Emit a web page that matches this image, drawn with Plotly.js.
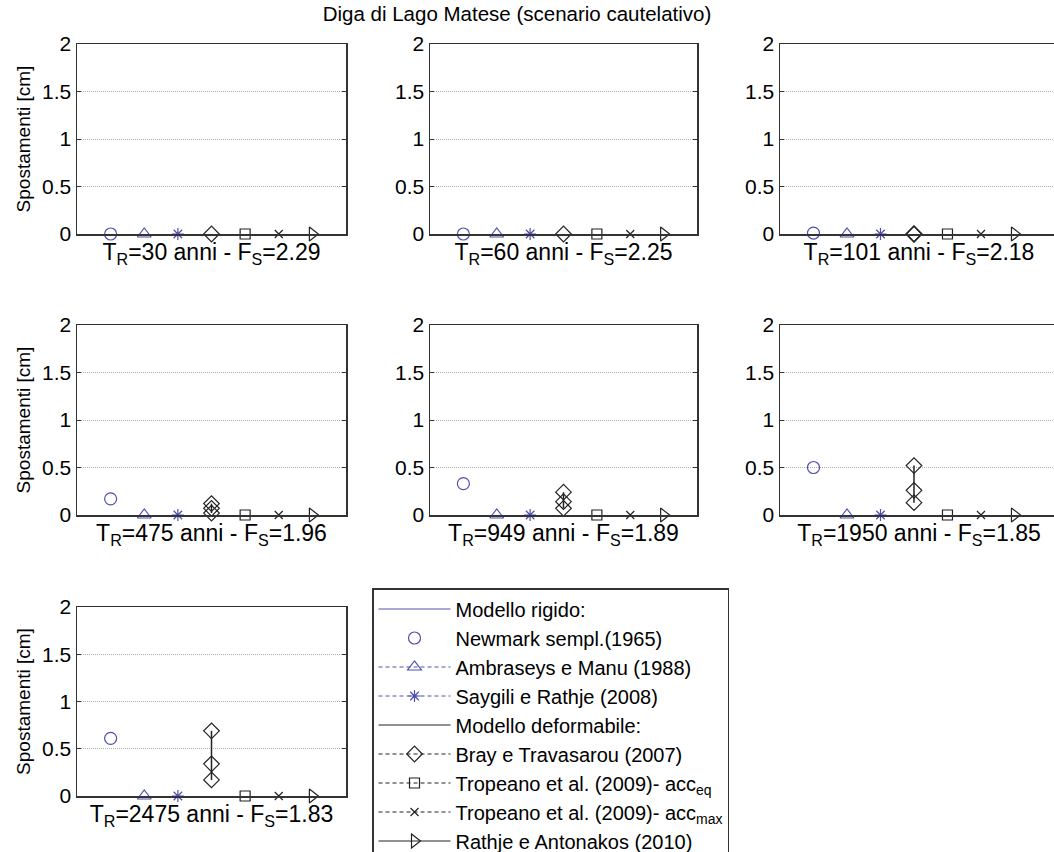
<!DOCTYPE html>
<html>
<head>
<meta charset="utf-8">
<script src="https://cdn.plot.ly/plotly-3.0.1.min.js"></script>
<style>
html, body { margin: 0; padding: 0; overflow: hidden; background: #fff; }
#chart { width: 1060px; height: 852px; }
</style>
</head>
<body>
<div id="chart"></div>
<script>
// ---- data ----
const mainTitle = 'Diga di Lago Matese (scenario cautelativo)';
const panelTR = [30, 60, 101, 475, 949, 1950, 2475];
const panelFS = ['2.29', '2.25', '2.18', '1.96', '1.89', '1.85', '1.83'];
const methodX = [1, 2, 3, 4, 5, 6, 7];
const newmark = [0, 0, 0.01, 0.17, 0.33, 0.50, 0.61];
const ambraseys = [0, 0, 0, 0, 0, 0, 0];
const saygili = [0, 0, 0, 0, 0, 0, 0];
const bray = [[0], [0], [0, 0, 0], [0.02, 0.07, 0.12], [0.07, 0.14, 0.24], [0.13, 0.26, 0.52], [0.17, 0.34, 0.69]];
const tropeanoEq = [0, 0, 0, 0, 0, 0, 0];
const tropeanoMax = [0, 0, 0, 0, 0, 0, 0];
const rathje = [0, 0, 0, 0, 0, 0, 0];
const yTicks = [0, 0.5, 1, 1.5, 2];
const yTickText = ['0', '0.5', '1', '1.5', '2'];
const legendNames = [
  'Modello rigido:',
  'Newmark sempl.(1965)',
  'Ambraseys e Manu (1988)',
  'Saygili e Rathje (2008)',
  'Modello deformabile:',
  'Bray e Travasarou (2007)',
  'Tropeano et al. (2009)- acc<sub>eq</sub>',
  'Tropeano et al. (2009)- acc<sub>max</sub>',
  'Rathje e Antonakos (2010)'
];

// ---- styling / layout ----
const W = 1060, H = 852;
const BLUE = '#4f4fb0', BLACK = '#222';
const FONT = 'Liberation Sans, Arial, sans-serif';
const colPx = [[77, 346, 8], [430, 697, 8], [780, 1058, 8.3]];
const rowPx = [[44, 234], [325, 515], [607, 796]];

const traces = [];
const layout = {
  width: W, height: H,
  margin: {l: 0, r: 0, t: 0, b: 0, autoexpand: false},
  paper_bgcolor: '#fff', plot_bgcolor: '#fff',
  font: {family: FONT, color: '#000', size: 20},
  showlegend: true,
  title: {text: mainTitle, font: {size: 20.5, family: FONT, color: '#000'}, x: 517 / W, xanchor: 'center', y: 1 - 14 / H, yanchor: 'middle'},
  legend: {
    x: 372 / W, y: 1 - 588 / H, xanchor: 'left', yanchor: 'top',
    bgcolor: '#fff', bordercolor: '#333', borderwidth: 1.5,
    font: {size: 20, family: FONT, color: '#000'}, itemwidth: 72, tracegroupgap: 0
  }
};

const markerStyles = [
  {key: 'newmark', data: newmark, symbol: 'circle-open', color: BLUE, size: 12},
  {key: 'ambraseys', data: ambraseys, symbol: 'triangle-up-open', color: BLUE, size: 12},
  {key: 'saygili', data: saygili, symbol: 'asterisk-open', color: BLUE, size: 10},
  {key: 'tropeanoEq', data: tropeanoEq, symbol: 'square-open', color: BLACK, size: 10},
  {key: 'tropeanoMax', data: tropeanoMax, symbol: 'x-thin-open', color: BLACK, size: 8},
  {key: 'rathje', data: rathje, symbol: 'triangle-right-open', color: BLACK, size: 12}
];
const methodIndex = {newmark: 0, ambraseys: 1, saygili: 2, tropeanoEq: 4, tropeanoMax: 5, rathje: 6};

panelTR.forEach((tr, i) => {
  const row = Math.floor(i / 3), col = i % 3;
  const n = i + 1;
  const xa = 'xaxis' + (n === 1 ? '' : n), ya = 'yaxis' + (n === 1 ? '' : n);
  const xr = 'x' + (n === 1 ? '' : n), yr = 'y' + (n === 1 ? '' : n);
  const [x0, x1, xmax] = colPx[col];
  const [yTop, yBot] = rowPx[row];
  layout[xa] = {
    domain: [x0 / W, x1 / W], range: [0, xmax], anchor: yr,
    showgrid: false, zeroline: false, showticklabels: false, ticks: '',
    showline: true, linecolor: '#333', linewidth: 1.5, mirror: true,
    title: {text: `T<sub>R</sub>=${tr} anni - F<sub>S</sub>=${panelFS[i]}`, font: {size: 23, family: FONT, color: '#000'}, standoff: 9},
    fixedrange: true
  };
  layout[ya] = {
    domain: [1 - yBot / H, 1 - yTop / H], range: [0, 2], anchor: xr,
    tickvals: yTicks, ticktext: yTickText, tickfont: {size: 21, family: FONT, color: '#000'},
    ticks: 'inside', ticklen: 4, tickcolor: '#333', tickwidth: 1,
    showgrid: true, gridcolor: '#b0b0b0', griddash: '1px,1px', gridwidth: 1,
    zeroline: false, showline: true, linecolor: '#333', linewidth: 1.5, mirror: 'ticks',
    fixedrange: true
  };
  if (col === 0) {
    layout[ya].title = {text: 'Spostamenti [cm]', font: {size: 19, family: FONT, color: '#000'}, standoff: 6};
  }
  markerStyles.forEach(ms => {
    traces.push({
      type: 'scatter', mode: 'markers', xaxis: xr, yaxis: yr,
      x: [methodX[methodIndex[ms.key]]], y: [ms.data[i]],
      marker: {symbol: ms.symbol, color: ms.color, size: ms.size, line: {color: ms.color, width: 1.2}},
      cliponaxis: false, showlegend: false, hoverinfo: 'y'
    });
  });
  traces.push({
    type: 'scatter', mode: 'lines+markers', xaxis: xr, yaxis: yr,
    x: bray[i].map(() => methodX[3]), y: bray[i],
    line: {color: BLACK, width: 1.5},
    marker: {symbol: 'diamond-open', color: BLACK, size: 12, line: {color: BLACK, width: 1.2}},
    cliponaxis: false, showlegend: false, hoverinfo: 'y'
  });
});

// legend-only entries
const DASH = '4px,3px';
const legendStyles = [
  {mode: 'lines', color: BLUE, dash: 'solid'},
  {mode: 'markers', color: BLUE, symbol: 'circle-open', size: 12},
  {mode: 'lines+markers', color: BLUE, dash: DASH, symbol: 'triangle-up-open', size: 12},
  {mode: 'lines+markers', color: BLUE, dash: DASH, symbol: 'asterisk-open', size: 10},
  {mode: 'lines', color: BLACK, dash: 'solid'},
  {mode: 'lines+markers', color: BLACK, dash: DASH, symbol: 'diamond-open', size: 12},
  {mode: 'lines+markers', color: BLACK, dash: DASH, symbol: 'square-open', size: 10},
  {mode: 'lines+markers', color: BLACK, dash: DASH, symbol: 'x-thin-open', size: 8},
  {mode: 'lines+markers', color: BLACK, dash: 'solid', symbol: 'triangle-right-open', size: 12}
];
legendNames.forEach((name, k) => {
  const s = legendStyles[k];
  const t = {
    type: 'scatter', mode: s.mode, name: name, x: [null], y: [null],
    xaxis: 'x', yaxis: 'y', showlegend: true, hoverinfo: 'skip'
  };
  if (s.mode.includes('lines')) t.line = {color: s.color, width: 1, dash: s.dash};
  if (s.mode.includes('markers')) t.marker = {symbol: s.symbol, color: s.color, size: s.size, line: {color: s.color, width: 1.2}};
  traces.push(t);
});

Plotly.newPlot('chart', traces, layout, {staticPlot: true, displayModeBar: false});
</script>
</body>
</html>
